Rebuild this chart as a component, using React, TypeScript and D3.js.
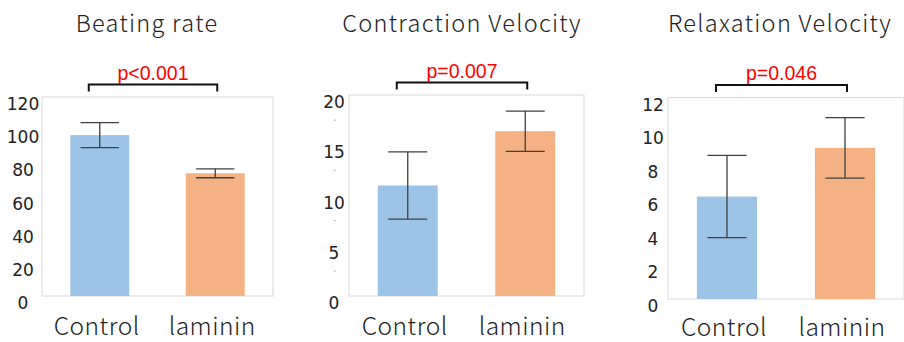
import React from 'react';
import * as d3 from 'd3';

// chart data
const titles = ['Beating rate', 'Contraction Velocity', 'Relaxation Velocity'];
const categories = ['Control', 'laminin'];
const means = [
  [97, 74],
  [11, 16.4],
  [6.1, 9.0],
];
const errors = [
  [7.5, 2.7],
  [3.35, 2.0],
  [2.45, 1.8],
];
const yMax = [120, 20, 12];
const yTicks = [
  [0, 20, 40, 60, 80, 100, 120],
  [0, 5, 10, 15, 20],
  [0, 2, 4, 6, 8, 10, 12],
];
const minorMarks = [[], [2.5, 7.5, 12.5, 17.5], []];
const pLabels = ['p<0.001', 'p=0.007', 'p=0.046'];
const barColors = ['#9DC3E6', '#F4B183'];

// panel frames (plot area) in page pixels
const frames = [
  { left: 42, right: 273, top: 97, bottom: 296, labelOff: 19, titleX: 147, catY: 335 },
  { left: 349, right: 584, top: 95, bottom: 296, labelOff: 15, titleX: 462, catY: 335 },
  { left: 668, right: 904, top: 97.5, bottom: 299, labelOff: 15, titleX: 780, catY: 335.5 },
];

const jpFont = "'Noto Sans CJK JP', 'Noto Sans', sans-serif";

const Panel = ({ i }: { i: number }) => {
  const f = frames[i];
  const x = d3.scaleBand<string>()
    .domain(categories)
    .range([f.left, f.right])
    .paddingInner(0.49)
    .paddingOuter(0.245);
  const y = d3.scaleLinear().domain([0, yMax[i]]).range([f.bottom, f.top]);
  const bw = x.bandwidth();
  const capW = bw * 0.65;
  const c0 = x(categories[0])! + bw / 2;
  const c1 = x(categories[1])! + bw / 2;
  const bracketY = f.top - 12.5;
  const pCenter = (c0 - 11 + c1 + 2) / 2;

  return (
    <g>
      <text x={f.titleX} y={32} textAnchor="middle" fontFamily={jpFont} fontWeight={300}
        fontSize={23.5} letterSpacing={1.3} fill="#222">{titles[i]}</text>

      {/* frame */}
      <rect x={f.left} y={f.top} width={f.right - f.left} height={f.bottom - f.top}
        fill="none" stroke="#D9D9D9" strokeWidth={1} />

      {/* y tick labels */}
      {yTicks[i].map(t => (
        <text key={t} x={f.left - f.labelOff} y={y(t) + 13} textAnchor="middle"
          fontFamily="'DejaVu Sans', sans-serif" fontSize={17} fill="#222">{t}</text>
      ))}
      {minorMarks[i].map(t => (
        <rect key={t} x={f.left - 15} y={y(t) - 0.75} width={1.5} height={1.5} fill="#bbb" />
      ))}

      {/* bars */}
      {categories.map((c, j) => (
        <rect key={c} x={x(c)} y={y(means[i][j])} width={bw} height={f.bottom - y(means[i][j])}
          fill={barColors[j]} />
      ))}

      {/* error bars */}
      {categories.map((c, j) => {
        const cx = x(c)! + bw / 2;
        const hi = y(means[i][j] + errors[i][j]);
        const lo = y(means[i][j] - errors[i][j]);
        return (
          <g key={c} stroke="#404040" strokeWidth={1.3}>
            <line x1={cx} x2={cx} y1={hi} y2={lo} />
            <line x1={cx - capW / 2} x2={cx + capW / 2} y1={hi} y2={hi} />
            <line x1={cx - capW / 2} x2={cx + capW / 2} y1={lo} y2={lo} />
          </g>
        );
      })}

      {/* significance bracket */}
      <path d={`M${c0 - 11},${bracketY + 7}V${bracketY}H${c1 + 2}V${bracketY + 7}`}
        fill="none" stroke="#111" strokeWidth={2} />
      <text x={pCenter} y={bracketY - 5} textAnchor="middle"
        fontFamily="'Liberation Sans', Arial, sans-serif" fontSize={19.5} fill="#FF0000">{pLabels[i]}</text>

      {/* category labels */}
      {categories.map(c => (
        <text key={c} x={x(c)! + bw / 2 - 3} y={f.catY} textAnchor="middle"
          fontFamily={jpFont} fontWeight={300} fontSize={24.5} letterSpacing={0.5} fill="#222">{c}</text>
      ))}
    </g>
  );
};

export default function App() {
  return (
    <svg width={904} height={342} style={{ position: 'absolute', left: 0, top: 0, background: '#fff' }}>
      <rect width={904} height={342} fill="#fff" />
      {titles.map((_, i) => <Panel key={i} i={i} />)}
    </svg>
  );
}
